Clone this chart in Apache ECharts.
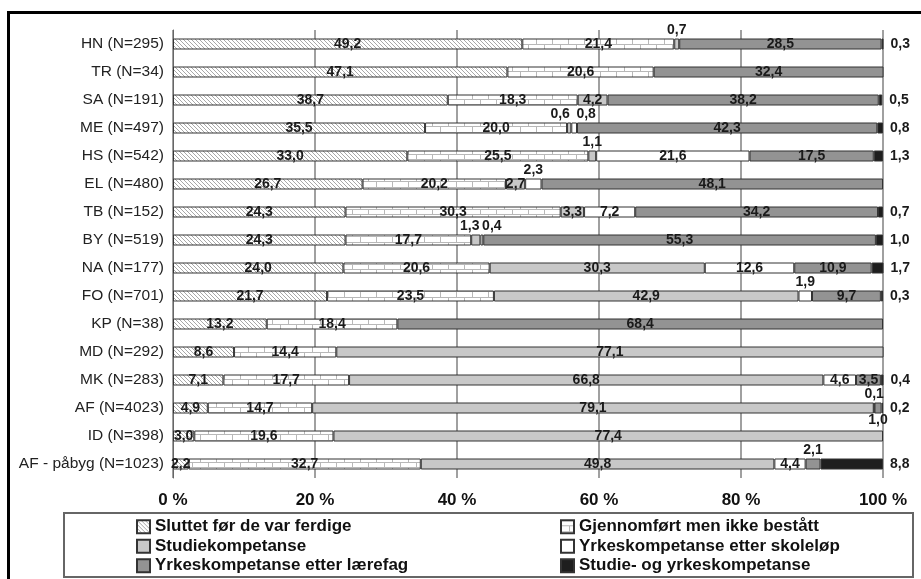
<!DOCTYPE html>
<html><head><meta charset="utf-8">
<script src="https://cdn.jsdelivr.net/npm/echarts@6/dist/echarts.min.js"></script>
<style>html,body{margin:0;padding:0;background:#fff}#c{width:921px;height:579px}</style>
</head><body><div id="c"></div>
<script>
const categories = ['HN (N=295)','TR (N=34)','SA (N=191)','ME (N=497)','HS (N=542)','EL (N=480)','TB (N=152)','BY (N=519)','NA (N=177)','FO (N=701)','KP (N=38)','MD (N=292)','MK (N=283)','AF (N=4023)','ID (N=398)','AF - påbyg (N=1023)'];
const seriesNames = ['Sluttet før de var ferdige','Gjennomført men ikke bestått','Studiekompetanse','Yrkeskompetanse etter skoleløp','Yrkeskompetanse etter lærefag','Studie- og yrkeskompetanse'];
const sluttet       = [49.2,47.1,38.7,35.5,33.0,26.7,24.3,24.3,24.0,21.7,13.2,8.6,7.1,4.9,3.0,2.2];
const gjennomfort   = [21.4,20.6,18.3,20.0,25.5,20.2,30.3,17.7,20.6,23.5,18.4,14.4,17.7,14.7,19.6,32.7];
const studie        = [0.7,0,4.2,0.6,1.1,2.7,3.3,1.3,30.3,42.9,0,77.1,66.8,79.1,77.4,49.8];
const yrkesSkole    = [0,0,0,0.8,21.6,2.3,7.2,0.4,12.6,1.9,0,0,4.6,0.1,0,4.4];
const yrkesLaerefag = [28.5,32.4,38.2,42.3,17.5,48.1,34.2,55.3,10.9,9.7,68.4,0,3.5,1.0,0,2.1];
const studieYrkes   = [0.3,0,0.5,0.8,1.3,0,0.7,1.0,1.7,0.3,0,0,0.4,0.2,0,8.8];
const xTickLabels = ['0 %','20 %','40 %','60 %','80 %','100 %'];

const allValues = [sluttet, gjennomfort, studie, yrkesSkole, yrkesLaerefag, studieYrkes];

// patterns
function hatch(){
  const c=document.createElement('canvas');c.width=4;c.height=4;const g=c.getContext('2d');
  g.fillStyle='#fff';g.fillRect(0,0,4,4);g.strokeStyle='#a8a8a8';g.lineWidth=1;
  g.beginPath();g.moveTo(-1,-1);g.lineTo(5,5);g.moveTo(-1,3);g.lineTo(1,5);g.moveTo(3,-1);g.lineTo(5,1);g.stroke();
  return c;
}
function brick(){
  const c=document.createElement('canvas');c.width=16;c.height=11;const g=c.getContext('2d');
  g.fillStyle='#fff';g.fillRect(0,0,16,11);g.strokeStyle='#b8b8b8';g.lineWidth=1;
  g.beginPath();g.moveTo(0,0.5);g.lineTo(16,0.5);g.moveTo(0,5.5);g.lineTo(16,5.5);
  g.moveTo(0.5,0);g.lineTo(0.5,5.5);g.moveTo(8.5,5.5);g.lineTo(8.5,11);g.stroke();
  return c;
}
const fills = [
  {image: hatch(), repeat:'repeat'},
  {image: brick(), repeat:'repeat'},
  '#c8c8c8','#ffffff','#939393','#1e1e1e'
];

// label placement exceptions (series index -> row index -> label cfg)
const labelOverrides = {
  2: {0:{position:'top',distance:1},3:{position:'top',distance:1,offset:[-9,0]},4:{position:'top',distance:1},7:{position:'top',distance:1,offset:[-6,0]}},
  3: {3:{position:'top',distance:1,offset:[12,0]},5:{position:'top',distance:1},7:{position:'top',distance:1,offset:[10,0]},9:{position:'top',distance:1},13:{position:'top',distance:1}},
  4: {13:{position:'bottom',distance:0},15:{position:'top',distance:1}}
};

const fmt = v => Number(v).toFixed(1).replace('.', ',');
const font = "'Liberation Sans', Arial, sans-serif";

const series = seriesNames.map((name, si) => ({
  name, type:'bar', stack:'total', barWidth:11,
  itemStyle:{color:fills[si], borderColor:'#333', borderWidth:1},
  label:{show:true, position: si===5 ? 'right' : 'inside', distance: si===5 ? 7 : 5,
    formatter: p => fmt(p.value), fontFamily:font, fontWeight:'bold', fontSize:14, color:'#1a1a1a'},
  emphasis:{disabled:true},
  data: allValues[si].map((v, ri) => {
    if (!v) return '-';
    const o = (labelOverrides[si]||{})[ri];
    return o ? {value:v, label:o} : v;
  })
}));

const legendCfg = (names, left) => ({
  data:names, orient:'vertical', left, top:517, height:70, padding:0,
  icon:'rect', itemWidth:13, itemHeight:13, itemGap:0, selectedMode:false,
  textStyle:{fontFamily:font, fontWeight:'bold', fontSize:17, color:'#111', lineHeight:19.5}
});

const chart = echarts.init(document.getElementById('c'));
chart.setOption({
  animation:false,
  backgroundColor:'#fff',
  grid:{left:173, right:38, top:30, bottom:101},
  xAxis:{type:'value', min:0, max:100, interval:20,
    axisLine:{show:false}, axisTick:{show:false},
    splitLine:{lineStyle:{color:'#808080', width:1.5}},
    axisLabel:{margin:14, fontFamily:font, fontWeight:'bold', fontSize:17, color:'#111',
      formatter: v => xTickLabels[Math.round(v/20)]}},
  yAxis:{type:'category', inverse:true, data:categories,
    axisLine:{lineStyle:{color:'#666', width:1}},
    axisTick:{length:4, lineStyle:{color:'#666'}},
    axisLabel:{margin:9, fontFamily:font, fontSize:15.5, color:'#222'}},
  legend:[
    legendCfg([seriesNames[0],seriesNames[2],seriesNames[4]], 136),
    legendCfg([seriesNames[1],seriesNames[3],seriesNames[5]], 560)
  ],
  graphic:[
    {type:'rect', shape:{x:8.5, y:12.5, width:1000, height:1000}, style:{fill:null, stroke:'#000', lineWidth:3}, silent:true},
    {type:'rect', shape:{x:64, y:513, width:849, height:64}, style:{fill:null, stroke:'#666', lineWidth:2}, silent:true}
  ],
  series
});
</script></body></html>
